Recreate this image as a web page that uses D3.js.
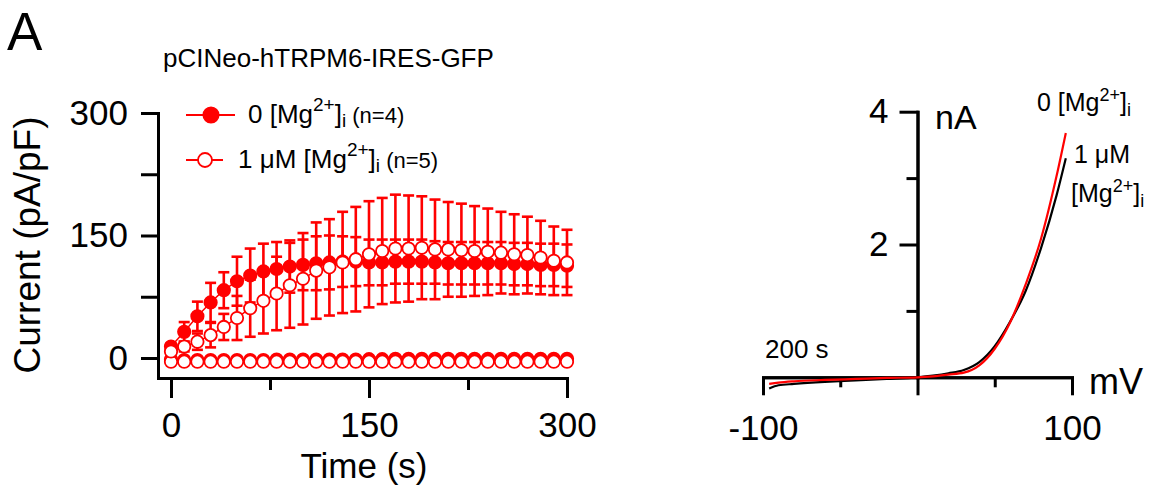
<!DOCTYPE html>
<html>
<head>
<meta charset="utf-8">
<script src="https://cdn.jsdelivr.net/npm/d3@7"></script>
<style>
  body { margin: 0; background: #fff; }
  svg { display: block; font-family: "Liberation Sans", Arial, sans-serif; }
</style>
</head>
<body>
<div id="chart"></div>
<script>
// Time course (s), one point every 10 s
var time = [0,10,20,30,40,50,60,70,80,90,100,110,120,130,140,150,160,170,180,190,200,210,220,230,240,250,260,270,280,290,300];

// outward current, 0 [Mg2+]i (filled), mean and SEM
var zeroMgOut = [14,32,51,68,83,94,101,106,109,112,114,116,117,118,118,117,117,118,118,118,117,116,116,116,116,116,115,115,114,114,113];
var zeroMgErr = [4,12,18,24,22,30,33,34,33,32,31,33,33,31,30,28,28,27,27,27,26,26,26,26,26,26,26,26,26,26,26];
// outward current, 1 uM [Mg2+]i (open)
var oneMgOut = [8,14,20,28,38,49,61,70,79,89,97,107,111,117,121,127,131,134,134,135,133,133,132,131,130,129,127,126,123,119,117];
var oneMgErr = [3,6,10,15,16,27,35,40,45,52,56,59,59,62,64,65,65,66,65,63,61,58,57,55,53,50,49,47,45,42,40];
// inward currents
var zeroMgIn = [-2,-2.5,-2.5,-2.5,-2.5,-2.5,-2.5,-2.5,-2,-2,-2,-2,-2,-2,-2,-1.5,-1.5,-1,-1,-1,-1,-1,-1,-1,-1,-1,-1,-1,-1,-1,-1];
var oneMgIn = [-4.5,-4.5,-4.5,-4.5,-4.5,-4.5,-4.5,-4.5,-4.5,-4.5,-4.5,-4.5,-4.5,-4.5,-4.5,-4.5,-4.5,-4.5,-4.5,-4.5,-4.5,-4.5,-4.5,-4.5,-4.5,-4.5,-4.5,-4.5,-4.5,-4.5,-4.5];

// I-V relation at 200 s (mV, nA)
var voltage = [-96,-90,-80,-60,-40,-20,0,10,20,30,40,50,60,70,80,90,96];
var ivZeroMg = [-0.10,-0.08,-0.06,-0.04,-0.025,-0.01,0,0.015,0.04,0.07,0.18,0.43,0.83,1.40,2.09,3.03,3.68];
var ivOneMg = [-0.17,-0.12,-0.10,-0.07,-0.048,-0.025,0,0.025,0.06,0.11,0.23,0.47,0.84,1.30,1.95,2.74,3.30];

// tick values
var timeTicks = [0,150,300], timeMinor = [75,225];
var currentTicks = [0,150,300], currentMinor = [75,225];
var mvTicks = [-100,0,100], mvMinor = [-50,50];
var naTicks = [2,4], naMinor = [1,3];

var red = "#ff0000";
var font = "'Liberation Sans', Arial, sans-serif";

var svg = d3.select("#chart")
  .append("svg")
    .attr("width", 1157)
    .attr("height", 489);

// panel letter and title
svg.append("text").attr("x", 7).attr("y", 50)
  .style("font-size", "53px").text("A");
svg.append("text").attr("x", 163).attr("y", 67)
  .style("font-size", "26px").text("pCINeo-hTRPM6-IRES-GFP");

// ---------- left panel: time course ----------
var x = d3.scaleLinear().domain([-9.85, 300]).range([158, 567]);
var y = d3.scaleLinear().domain([-24.5, 300]).range([378, 113]);

function styleAxis(g, size) {
  g.select(".domain").style("stroke-width", "3px").style("stroke-linecap", "square");
  g.selectAll(".tick line").style("stroke-width", "3px");
  g.selectAll("text").style("font-size", size).style("font-family", font).attr("fill", "#000");
}

svg.append("g")
  .attr("transform", "translate(158,0)")
  .call(d3.axisLeft(y).tickValues(currentTicks).tickSize(17).tickSizeOuter(0).tickPadding(13))
  .call(styleAxis, "35px");
svg.append("g")
  .attr("transform", "translate(158,0)")
  .call(d3.axisLeft(y).tickValues(currentMinor).tickSize(17).tickSizeOuter(0).tickFormat(""))
  .call(styleAxis, "35px");

svg.append("g")
  .attr("transform", "translate(0,378)")
  .call(d3.axisBottom(x).tickValues(timeTicks).tickSize(20).tickSizeOuter(0).tickPadding(14))
  .call(styleAxis, "35px");
svg.append("g")
  .attr("transform", "translate(0,378)")
  .call(d3.axisBottom(x).tickValues(timeMinor).tickSize(12).tickSizeOuter(0).tickFormat(""))
  .call(styleAxis, "35px");

svg.append("text")
  .attr("x", 364).attr("y", 478)
  .style("text-anchor", "middle").style("font-size", "35px")
  .text("Time (s)");

svg.append("text")
  .attr("transform", "translate(40,245) rotate(-90)")
  .style("text-anchor", "middle").style("font-size", "37px")
  .text("Current (pA/pF)");

var plot = svg.append("g");

// error bars (behind all markers)
function errorBars(mean, err) {
  var g = plot.append("g").attr("stroke", red).attr("stroke-width", 2.6);
  time.forEach(function(t, i) {
    var cx = x(t), top = y(mean[i] + err[i]), bot = y(mean[i] - err[i]);
    g.append("line").attr("x1", cx).attr("x2", cx).attr("y1", top).attr("y2", bot);
    g.append("line").attr("x1", cx - 5.5).attr("x2", cx + 5.5).attr("y1", top).attr("y2", top);
    g.append("line").attr("x1", cx - 5.5).attr("x2", cx + 5.5).attr("y1", bot).attr("y2", bot);
  });
}
errorBars(zeroMgOut, zeroMgErr);
errorBars(oneMgOut, oneMgErr);

var line = d3.line()
  .x(function(d, i) { return x(time[i]); })
  .y(function(d) { return y(d); });

function series(values, fill) {
  plot.append("path").datum(values)
    .attr("d", line).attr("fill", "none")
    .attr("stroke", red).attr("stroke-width", 1.5);
  plot.append("g").selectAll("circle")
    .data(values)
    .enter().append("circle")
      .attr("cx", function(d, i) { return x(time[i]); })
      .attr("cy", function(d) { return y(d); })
      .attr("r", 6.2)
      .attr("fill", fill)
      .attr("stroke", red)
      .attr("stroke-width", 1.8);
}
series(zeroMgIn, red);
series(zeroMgOut, red);
series(oneMgIn, "#fff");
series(oneMgOut, "#fff");

// legend
var legend = svg.append("g");
legend.append("line").attr("x1", 186).attr("x2", 235).attr("y1", 115).attr("y2", 115)
  .attr("stroke", red).attr("stroke-width", 2.2);
legend.append("circle").attr("cx", 211).attr("cy", 115).attr("r", 7.8)
  .attr("fill", red).attr("stroke", red).attr("stroke-width", 1.5);
legend.append("line").attr("x1", 186).attr("x2", 223).attr("y1", 160).attr("y2", 160)
  .attr("stroke", red).attr("stroke-width", 2.2);
legend.append("circle").attr("cx", 205).attr("cy", 160).attr("r", 7)
  .attr("fill", "#fff").attr("stroke", red).attr("stroke-width", 1.8);

function mgLabel(sel, prefix, suffix, size, supSize, supUp, subDown) {
  sel.style("font-size", size + "px");
  sel.append("tspan").text(prefix + "[Mg");
  sel.append("tspan").attr("dy", -supUp).style("font-size", supSize + "px").text("2+");
  sel.append("tspan").attr("dy", supUp).text("]");
  sel.append("tspan").attr("dy", subDown).style("font-size", supSize + "px").text("i");
  if (suffix) {
    sel.append("tspan").attr("dy", -subDown).style("font-size", "22px").text(" " + suffix);
  }
}
legend.append("text").attr("x", 248).attr("y", 123)
  .call(mgLabel, "0 ", "(n=4)", 26, 19, 12, 4);
legend.append("text").attr("x", 238).attr("y", 168)
  .call(mgLabel, "1 \u03bcM ", "(n=5)", 26, 19, 12, 4);

// ---------- right panel: I-V at 200 s ----------
var xr = d3.scaleLinear().domain([-100, 100]).range([763, 1072]);
var yr = d3.scaleLinear().domain([0, 4]).range([377.3, 111.7]);

svg.append("g")
  .attr("transform", "translate(0," + yr(0) + ")")
  .call(d3.axisBottom(xr).tickValues(mvTicks).tickSize(18).tickSizeOuter(0).tickPadding(20)
    .tickFormat(function(d) { return d === 0 ? "" : String(d); }))
  .call(styleAxis, "35px");
svg.append("g")
  .attr("transform", "translate(0," + yr(0) + ")")
  .call(d3.axisBottom(xr).tickValues(mvMinor).tickSize(10).tickSizeOuter(0).tickFormat(""))
  .call(styleAxis, "35px");

svg.append("g")
  .attr("transform", "translate(" + xr(0) + ",0)")
  .call(d3.axisLeft(yr).tickValues(naTicks).tickSize(18).tickSizeOuter(0).tickPadding(11)
    .tickFormat(function(d) { return String(d); }))
  .call(styleAxis, "35px");
svg.append("g")
  .attr("transform", "translate(" + xr(0) + ",0)")
  .call(d3.axisLeft(yr).tickValues(naMinor).tickSize(11).tickSizeOuter(0).tickFormat(""))
  .call(styleAxis, "35px");

svg.append("text").attr("x", 935).attr("y", 129)
  .style("font-size", "34px").text("nA");
svg.append("text").attr("x", 1089).attr("y", 394)
  .style("font-size", "36px").text("mV");
svg.append("text").attr("x", 765).attr("y", 358)
  .style("font-size", "26px").text("200 s");

var ivLine = d3.line()
  .x(function(d, i) { return xr(voltage[i]); })
  .y(function(d) { return yr(d); })
  .curve(d3.curveMonotoneX);

svg.append("path").datum(ivOneMg)
  .attr("d", ivLine).attr("fill", "none")
  .attr("stroke", "#000").attr("stroke-width", 2.2);
svg.append("path").datum(ivZeroMg)
  .attr("d", ivLine).attr("fill", "none")
  .attr("stroke", red).attr("stroke-width", 2.2);

svg.append("text").attr("x", 1037).attr("y", 111)
  .call(mgLabel, "0 ", null, 25, 18, 10, 5);
svg.append("text").attr("x", 1074).attr("y", 163)
  .style("font-size", "25px").text("1 \u03bcM");
svg.append("text").attr("x", 1071).attr("y", 202)
  .call(mgLabel, "", null, 25, 18, 10, 5);
</script>
</body>
</html>
